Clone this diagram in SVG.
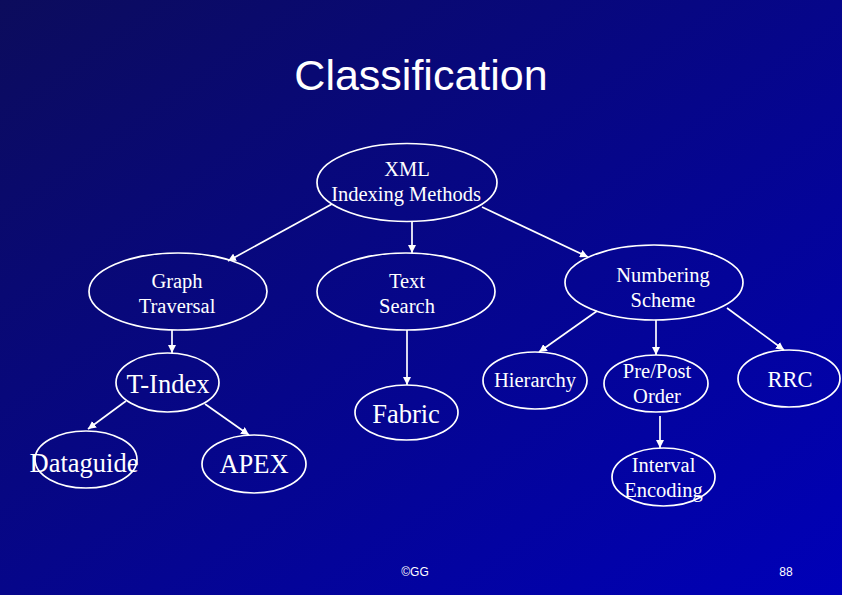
<svg xmlns="http://www.w3.org/2000/svg" width="842" height="595" viewBox="0 0 842 595">
<defs>
<linearGradient id="bg" x1="0" y1="0" x2="1" y2="1">
<stop offset="0" stop-color="#0c0c5c"/>
<stop offset="0.5" stop-color="#06068a"/>
<stop offset="1" stop-color="#0000b8"/>
</linearGradient>
<marker id="ah" viewBox="0 0 10 10" refX="10" refY="5" markerWidth="8" markerHeight="8" markerUnits="userSpaceOnUse" orient="auto">
<path d="M0,0 L10,5 L0,10 z" fill="#ffffff"/>
</marker>
<style>
.n ellipse{fill:none;stroke:#ffffff;stroke-width:1.7}
.n text{fill:#ffffff;font-family:"Liberation Serif","Times New Roman",serif;text-anchor:middle}
.s{font-size:20.5px}
.b{font-size:26.5px}
#edges line{stroke:#ffffff;stroke-width:1.7;marker-end:url(#ah)}
.t{fill:#ffffff;font-family:"Liberation Sans",Arial,sans-serif;text-anchor:middle}
</style>
</defs>
<rect x="0" y="0" width="842" height="595" fill="url(#bg)"/>
<text class="t" x="421" y="90" font-size="43">Classification</text>
<g id="edges">
<line x1="332" y1="204" x2="228" y2="261"/>
<line x1="412" y1="222" x2="412" y2="253"/>
<line x1="482" y1="207" x2="588" y2="257"/>
<line x1="172" y1="330" x2="172" y2="353"/>
<line x1="407" y1="330" x2="407" y2="385"/>
<line x1="597" y1="311" x2="539" y2="352"/>
<line x1="656" y1="320" x2="656" y2="355"/>
<line x1="727" y1="308" x2="784" y2="350"/>
<line x1="126" y1="401" x2="88" y2="429"/>
<line x1="205" y1="404" x2="249" y2="435"/>
<line x1="660" y1="416" x2="660" y2="448"/>
</g>
<g id="xml" class="n"><ellipse cx="407" cy="182.5" rx="90" ry="39"/><text class="s" x="407" y="176">XML</text><text class="s" x="406" y="201">Indexing Methods</text></g>
<g id="graph" class="n"><ellipse cx="178" cy="291.5" rx="89" ry="38.5"/><text class="s" x="177" y="288">Graph</text><text class="s" x="177" y="313">Traversal</text></g>
<g id="textsearch" class="n"><ellipse cx="406" cy="291.5" rx="89" ry="38.5"/><text class="s" x="407" y="288">Text</text><text class="s" x="407" y="313">Search</text></g>
<g id="numbering" class="n"><ellipse cx="654" cy="282.5" rx="89" ry="37.5"/><text class="s" x="663" y="282">Numbering</text><text class="s" x="663" y="307">Scheme</text></g>
<g id="tindex" class="n"><ellipse cx="167.5" cy="382.5" rx="51.5" ry="29.5"/><text class="b" x="168" y="393">T-Index</text></g>
<g id="dataguide" class="n"><ellipse cx="86" cy="459.5" rx="51" ry="28.5"/><text class="b" x="84" y="472">Dataguide</text></g>
<g id="apex" class="n"><ellipse cx="254" cy="464" rx="52" ry="29"/><text class="b" x="254" y="473">APEX</text></g>
<g id="fabric" class="n"><ellipse cx="406.5" cy="412.5" rx="51.5" ry="27.5"/><text class="b" x="406" y="423">Fabric</text></g>
<g id="hierarchy" class="n"><ellipse cx="535" cy="380.5" rx="52" ry="28.5"/><text class="s" x="535" y="387">Hierarchy</text></g>
<g id="prepost" class="n"><ellipse cx="656" cy="383.5" rx="52" ry="28.5"/><text class="s" x="657" y="378">Pre/Post</text><text class="s" x="657" y="403">Order</text></g>
<g id="rrc" class="n"><ellipse cx="789" cy="378.5" rx="51" ry="28.5"/><text class="s" x="790" y="387" style="font-size:22.5px">RRC</text></g>
<g id="interval" class="n"><ellipse cx="663.5" cy="477" rx="51.5" ry="29"/><text class="s" x="663.5" y="472">Interval</text><text class="s" x="663.5" y="497">Encoding</text></g>
<text class="t" x="415" y="576" font-size="12">©GG</text>
<text class="t" x="786" y="576" font-size="12">88</text>
</svg>
